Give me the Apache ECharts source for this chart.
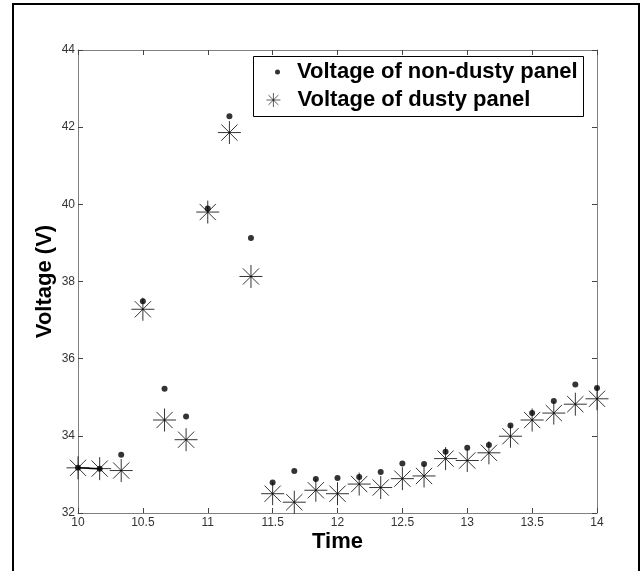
<!DOCTYPE html>
<html>
<head>
<meta charset="utf-8">
<script src="https://cdn.jsdelivr.net/npm/echarts@6/dist/echarts.min.js"></script>
<style>
  html, body { margin: 0; padding: 0; background: #fff; }
  #main { width: 643px; height: 571px; }
</style>
</head>
<body>
<div id="main"></div>
<script>
var myChart = echarts.init(document.getElementById('main'));

// data
var times = [10, 10.167, 10.333, 10.5, 10.667, 10.833, 11, 11.167, 11.333, 11.5, 11.667, 11.833, 12,
    12.167, 12.333, 12.5, 12.667, 12.833, 13, 13.167, 13.333, 13.5, 13.667, 13.833, 14];
var nonDusty = [33.17, 33.15, 33.51, 37.49, 35.22, 34.50, 39.89, 42.28, 39.13, 32.79, 33.09, 32.88, 32.91,
    32.93, 33.06, 33.28, 33.27, 33.59, 33.69, 33.76, 34.27, 34.59, 34.90, 35.33, 35.24];
var dusty = [33.17, 33.15, 33.10, 37.28, 34.41, 33.90, 39.80, 41.86, 38.13, 32.50, 32.28, 32.59, 32.50,
    32.75, 32.66, 32.89, 32.96, 33.41, 33.36, 33.56, 33.99, 34.41, 34.59, 34.82, 34.96];
var seriesNames = ['Voltage of non-dusty panel', 'Voltage of dusty panel'];

function pairs(xs, ys) {
    var out = [];
    for (var i = 0; i < xs.length; i++) {
        out.push([xs[i], ys[i]]);
    }
    return out;
}

var star = 'path://M0,-10L0,10M-10,0L10,0M-7.07,-7.07L7.07,7.07M-7.07,7.07L7.07,-7.07';
var tickFont = { fontFamily: 'Liberation Sans Narrow, Liberation Sans, Arial', fontSize: 12, color: '#333' };
var gray = '#808080';
var legendFont = { fontFamily: 'Liberation Sans, Arial', fontWeight: 'bold', fontSize: 22, color: '#000' };

option = {
    animation: false,
    grid: { left: 78, top: 50, right: 46, bottom: 58 },
    xAxis: [{
        type: 'value',
        min: 10, max: 14, interval: 0.5,
        name: 'Time',
        nameLocation: 'middle',
        nameGap: 18,
        nameMoveOverlap: false,
        nameTextStyle: { fontFamily: 'Liberation Sans, Arial', fontWeight: 'bold', fontSize: 22, color: '#000' },
        axisLine: { show: true, onZero: false, lineStyle: { color: gray, width: 1 } },
        axisTick: { show: true, inside: true, length: 5, lineStyle: { color: '#444' } },
        axisLabel: Object.assign({ margin: 4 }, tickFont),
        splitLine: { show: false }
    }, {
        type: 'value', position: 'top',
        min: 10, max: 14, interval: 0.5,
        axisLine: { show: true, onZero: false, lineStyle: { color: gray, width: 1 } },
        axisTick: { show: true, inside: true, length: 5, lineStyle: { color: '#444' } },
        axisLabel: { show: false },
        splitLine: { show: false }
    }],
    yAxis: [{
        type: 'value',
        min: 32, max: 44, interval: 2,
        name: 'Voltage (V)',
        nameLocation: 'middle',
        nameGap: 22,
        nameMoveOverlap: false,
        nameTextStyle: { fontFamily: 'Liberation Sans, Arial', fontWeight: 'bold', fontSize: 22, color: '#000' },
        axisLine: { show: true, onZero: false, lineStyle: { color: gray, width: 1 } },
        axisTick: { show: true, inside: true, length: 5, lineStyle: { color: '#444' } },
        axisLabel: Object.assign({ margin: 3 }, tickFont),
        splitLine: { show: false }
    }, {
        type: 'value', position: 'right',
        min: 32, max: 44, interval: 2,
        axisLine: { show: true, onZero: false, lineStyle: { color: gray, width: 1 } },
        axisTick: { show: true, inside: true, length: 5, lineStyle: { color: '#444' } },
        axisLabel: { show: false },
        splitLine: { show: false }
    }],
    legend: [{
        data: [seriesNames[0]],
        orient: 'vertical',
        left: 275, top: 61,
        padding: 0,
        itemWidth: 5, itemHeight: 5,
        icon: 'circle',
        textStyle: Object.assign({ padding: [0, 0, 0, 12] }, legendFont)
    }, {
        data: [seriesNames[1]],
        orient: 'vertical',
        left: 266, top: 89,
        padding: 0,
        itemWidth: 14, itemHeight: 14,
        itemStyle: { color: '#000', borderColor: '#000', borderWidth: 0.8 },
        textStyle: Object.assign({ padding: [0, 0, 0, 12] }, legendFont)
    }],
    graphic: [{
        type: 'rect',
        shape: { x: 13, y: 4, width: 626, height: 620 },
        style: { fill: 'none', stroke: '#000', lineWidth: 2 },
        silent: true
    }, {
        type: 'rect',
        shape: { x: 253.5, y: 56.5, width: 330, height: 60 },
        style: { fill: '#fff', stroke: '#000', lineWidth: 1 },
        z: 4,
        silent: true
    }],
    series: [{
        name: 'first segment',
        type: 'line',
        data: pairs(times.slice(0, 2), dusty.slice(0, 2)),
        symbol: 'none',
        lineStyle: { color: '#000', width: 1.5 },
        silent: true,
        z: 2
    }, {
        name: seriesNames[1],
        type: 'scatter',
        data: pairs(times, dusty),
        symbol: star,
        symbolSize: 23,
        itemStyle: { color: '#000', borderColor: '#000', borderWidth: 1 },
        z: 2
    }, {
        name: seriesNames[0],
        type: 'scatter',
        data: pairs(times, nonDusty),
        symbol: 'circle',
        symbolSize: 6,
        itemStyle: { color: '#000' },
        z: 3
    }]
};

myChart.setOption(option);
</script>
</body>
</html>
